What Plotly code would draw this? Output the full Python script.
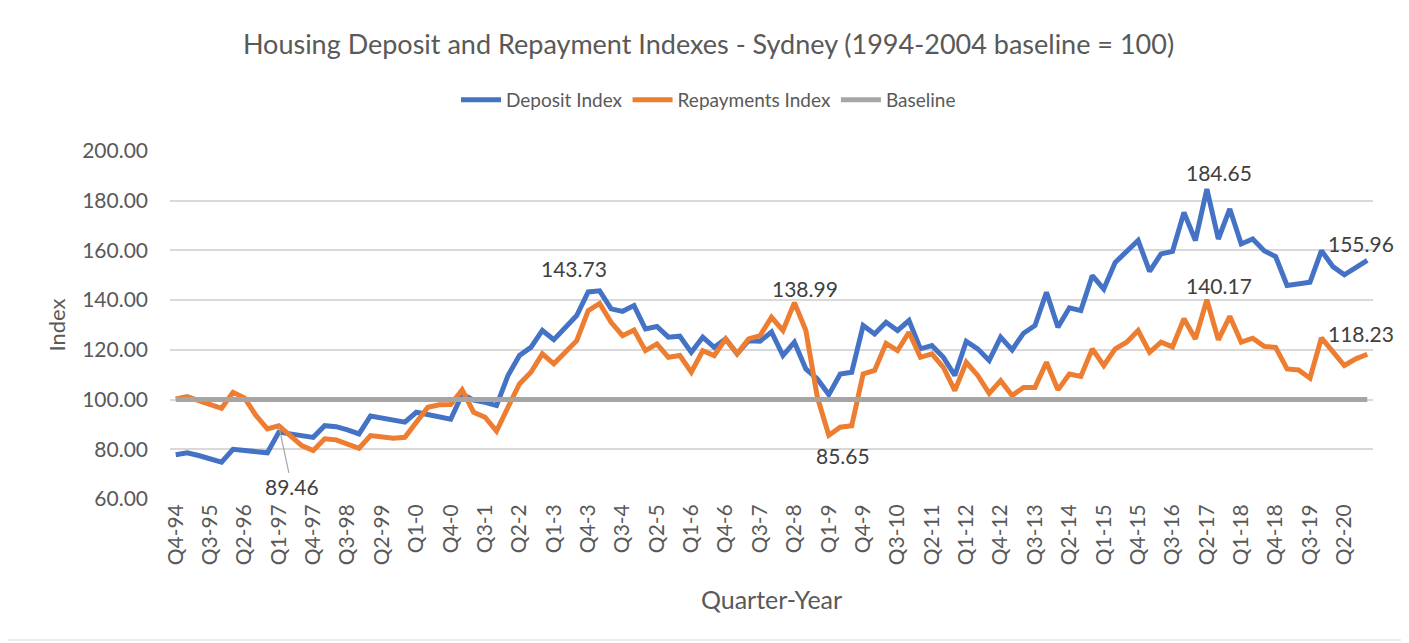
import plotly.graph_objects as go

# ---- categories (quarters Q4-94 .. Q4-20) ----
quarters = []
for yr in range(1994, 2021):
    for q in range(1, 5):
        if (yr == 1994 and q < 4):
            continue
        quarters.append(f"Q{q}-{yr % 100}")

tick_labels = quarters[::3]

deposit_index = [
    77.8, 78.6, 77.5, 76.1, 74.8, 80.0, 79.5, 79.1, 78.6, 86.9,
    86.2, 85.5, 84.8, 89.5, 89.1, 87.8, 86.2, 93.4, 92.4, 91.7,
    90.9, 94.9, 94.1, 93.1, 92.1, 102.1, 99.8, 98.9, 97.6, 109.7,
    117.7, 121.0, 127.8, 124.1, 128.9, 133.8, 143.3, 143.73, 136.5, 135.5,
    137.8, 128.4, 129.4, 125.1, 125.5, 119.0, 125.1, 121.0, 124.4, 118.4,
    123.7, 123.5, 127.2, 117.7, 123.1, 112.3, 108.3, 102.0, 110.3, 111.0,
    129.8, 126.4, 131.1, 127.8, 131.8, 120.4, 121.7, 117.0, 109.7, 123.4,
    120.4, 115.7, 125.1, 120.0, 126.7, 129.8, 143.2, 129.1, 136.9, 135.8,
    149.9, 144.5, 155.2, 159.9, 164.0, 151.6, 158.6, 159.6, 175.3, 164.0,
    184.65, 164.6, 176.7, 162.6, 164.6, 159.9, 157.5, 145.9, 146.5, 147.2,
    159.9, 153.5, 150.2, 153.2, 155.96,
]

repayments_index = [
    100.3, 101.2, 99.6, 98.0, 96.5, 102.9, 100.7, 93.6, 88.2, 89.46,
    85.5, 81.5, 79.5, 84.2, 83.8, 82.2, 80.4, 85.5, 84.8, 84.4,
    84.8, 90.9, 96.9, 97.9, 98.0, 103.9, 94.9, 92.9, 87.3, 96.9,
    106.3, 111.0, 118.4, 114.4, 119.0, 123.7, 135.8, 138.7, 131.1, 125.7,
    128.0, 119.7, 122.4, 117.0, 117.7, 111.0, 119.7, 117.7, 124.4, 118.4,
    124.4, 125.7, 133.1, 127.8, 138.99, 127.8, 101.0, 85.65, 88.9, 89.5,
    110.3, 111.7, 122.6, 119.7, 127.1, 117.0, 118.4, 113.0, 103.6, 115.0,
    109.7, 102.5, 107.6, 101.6, 104.9, 104.9, 115.0, 103.9, 110.3, 109.3,
    120.4, 113.7, 120.4, 123.1, 127.8, 119.0, 123.1, 121.2, 132.5, 124.4,
    140.17, 124.0, 133.5, 123.1, 124.7, 121.4, 121.0, 112.3, 111.9, 108.6,
    124.8, 119.0, 113.7, 116.4, 118.23,
]

BASELINE_VALUE = 100
baseline = [BASELINE_VALUE] * len(quarters)

# labelled points: (index, text)
deposit_labels = [(37, "143.73"), (90, "184.65"), (104, "155.96")]
repay_labels = [(9, "89.46"), (54, "138.99"), (57, "85.65"), (90, "140.17"), (104, "118.23")]

FONT = "Lato, Calibri, Carlito, sans-serif"
TXT = "#595959"
LBL = "#404040"
BLUE = "#4472C4"
ORANGE = "#ED7D31"
GRAY = "#A5A5A5"

fig = go.Figure()
fig.add_trace(go.Scatter(x=quarters, y=deposit_index, mode="lines", name="Deposit Index",
                         line=dict(color=BLUE, width=5)))
fig.add_trace(go.Scatter(x=quarters, y=repayments_index, mode="lines", name="Repayments Index",
                         line=dict(color=ORANGE, width=5)))
fig.add_trace(go.Scatter(x=quarters, y=baseline, mode="lines", name="Baseline",
                         line=dict(color=GRAY, width=5)))

# data label offsets (pixels)
offsets = {
    ("d", 37): (-26, 22), ("d", 90): (12, 17), ("d", 104): (-6, 17),
    ("r", 54): (11, 14), ("r", 57): (14, -20), ("r", 90): (12, 14), ("r", 104): (-6, 21),
}
annotations = []
for idx, txt in deposit_labels:
    dx, dy = offsets[("d", idx)]
    annotations.append(dict(x=quarters[idx], y=deposit_index[idx], text=txt, showarrow=False,
                            xshift=dx, yshift=dy, font=dict(family=FONT, size=21, color=LBL)))
for idx, txt in repay_labels:
    if idx == 9:
        annotations.append(dict(x=quarters[idx], y=repayments_index[idx], text=txt, showarrow=True,
                                arrowhead=0, arrowwidth=1.2, arrowcolor="#A6A6A6", ax=13, ay=61,
                                standoff=0, font=dict(family=FONT, size=21, color=LBL)))
        continue
    dx, dy = offsets[("r", idx)]
    annotations.append(dict(x=quarters[idx], y=repayments_index[idx], text=txt, showarrow=False,
                            xshift=dx, yshift=dy, font=dict(family=FONT, size=21, color=LBL)))

# page body adds an 8px offset; compensate
OFF = 8
W, H = 1409 - OFF, 643 - OFF
L = 170 - OFF
T = 151 - OFF
R = W - (1373 - OFF)
B = H - (499 - OFF)
pw, ph = W - L - R, H - T - B

fig.update_layout(
    width=W, height=H,
    margin=dict(l=L, r=R, t=T, b=B, autoexpand=False),
    paper_bgcolor="white", plot_bgcolor="white",
    title=dict(text="Housing Deposit and Repayment Indexes - Sydney (1994-2004 baseline = 100)",
               x=0.5, xref="container", xanchor="center", y=1 - (45 - OFF) / H, yref="container",
               yanchor="middle", font=dict(family=FONT, size=27, color=TXT)),
    legend=dict(orientation="h", x=0.5, xref="container", xanchor="center",
                y=1 - (100 - OFF) / H, yref="container", yanchor="middle",
                font=dict(family=FONT, size=19, color=TXT), itemwidth=40),
    showlegend=True,
    annotations=annotations,
    shapes=[dict(type="rect", xref="paper", yref="paper",
                 x0=(2 - OFF - L) / pw, x1=(1404 - OFF - L) / pw,
                 y0=(H - B - (640 - OFF)) / ph, y1=(H - B - (2 - OFF)) / ph,
                 line=dict(color="#D9D9D9", width=1), fillcolor="rgba(0,0,0,0)", layer="below")],
)
fig.update_xaxes(type="category", range=[-0.5, len(quarters) - 0.5],
                 tickmode="array", tickvals=tick_labels, ticktext=tick_labels,
                 tickangle=-90, showgrid=False, zeroline=False, showline=False, ticks="",
                 tickfont=dict(family=FONT, size=21, color=TXT),
                 title=dict(text="Quarter-Year", font=dict(family=FONT, size=25, color=TXT), standoff=27))
fig.update_yaxes(range=[60, 200], dtick=20, tick0=60, tickformat=".2f",
                 showgrid=True, gridcolor="#D9D9D9", gridwidth=1.5, zeroline=False, showline=False,
                 ticks="", ticklabelstandoff=21,
                 tickfont=dict(family=FONT, size=21, color=TXT),
                 title=dict(text="Index", font=dict(family=FONT, size=22, color=TXT), standoff=10))

fig.write_html("out.html")
